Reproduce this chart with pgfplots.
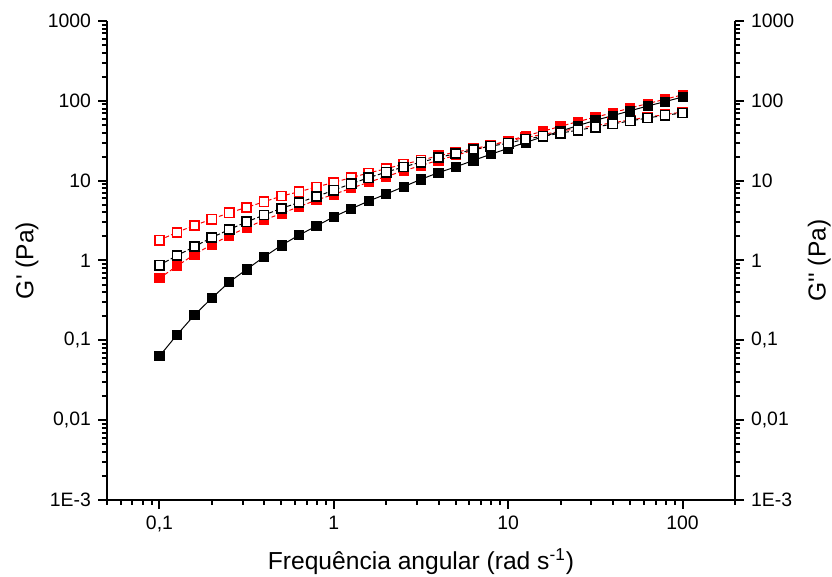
\documentclass[border=0pt]{standalone}
\usepackage{fontspec}
\setmainfont{Liberation Sans}[Ligatures=TeXOff]
\usepackage{pgfplots}
\usepackage{pgfplotstable}
\pgfplotsset{compat=1.18}
\newcommand\tl{\fontsize{9.7}{11}\selectfont}

\pgfplotstableread{
x y
0.1 0.0634
0.12589 0.117
0.15849 0.207
0.19953 0.338
0.25119 0.536
0.31623 0.774
0.39811 1.11
0.50119 1.55
0.63096 2.08
0.79433 2.70
1 3.53
1.2589 4.45
1.5849 5.55
1.9953 6.79
2.5119 8.39
3.1623 10.4
3.9811 12.6
5.0119 14.9
6.3096 17.9
7.9433 21.4
10 25.4
12.589 30.1
15.849 35.5
19.953 41.7
25.119 49.0
31.623 56.9
39.811 65.3
50.119 75.0
63.096 86.1
79.433 97.7
100 111.7
}\blackfilled

\pgfplotstableread{
x y
0.1 0.875
0.12589 1.15
0.15849 1.49
0.19953 1.94
0.25119 2.44
0.31623 3.05
0.39811 3.71
0.50119 4.50
0.63096 5.32
0.79433 6.32
1 7.6
1.2589 9.16
1.5849 10.89
1.9953 12.79
2.5119 14.86
3.1623 17.06
3.9811 19.41
5.0119 21.88
6.3096 24.43
7.9433 27.04
10 29.51
12.589 33.11
15.849 36.06
19.953 39.36
25.119 42.95
31.623 46.77
39.811 51.29
50.119 55.98
63.096 60.95
79.433 66.07
100 70.31
}\blackopen

\pgfplotstableread{
x y
0.1 0.60
0.12589 0.851
0.15849 1.19
0.19953 1.58
0.25119 2.05
0.31623 2.58
0.39811 3.21
0.50119 3.89
0.63096 4.71
0.79433 5.71
1 6.73
1.2589 8.04
1.5849 9.55
1.9953 11.27
2.5119 13.24
3.1623 15.49
3.9811 17.99
5.0119 20.80
6.3096 23.99
7.9433 27.54
10 31.62
12.589 36.31
15.849 41.69
19.953 47.86
25.119 54.95
31.623 62.37
39.811 70.79
50.119 81.28
63.096 92.26
79.433 104.7
100 118.9
}\redfilled

\pgfplotstableread{
x y
0.1 1.80
0.12589 2.25
0.15849 2.75
0.19953 3.30
0.25119 3.96
0.31623 4.63
0.39811 5.44
0.50119 6.41
0.63096 7.26
0.79433 8.32
1 9.52
1.2589 10.9
1.5849 12.5
1.9953 14.1
2.5119 16.1
3.1623 18.0
3.9811 20.5
5.0119 22.8
6.3096 25.1
7.9433 27.9
10 31.4
12.589 34.7
15.849 38.0
19.953 41.5
25.119 45.2
31.623 49.0
39.811 53.1
50.119 57.5
63.096 62.4
79.433 67.3
100 72.4
}\redopen

\begin{document}
\begin{tikzpicture}
\begin{axis}[name=ax,
    scale only axis, width=314pt, height=239.5pt,
    xmode=log, ymode=log,
    xmin=0.05, xmax=200, ymin=1e-3, ymax=1000,
  axis x line*=bottom, axis y line*=left,
    xtick={0.1,1,10,100}, xticklabels={{\tl 0,1},{\tl 1},{\tl 10},{\tl 100}},
    ytick={1e-3,0.01,0.1,1,10,100,1000},
    yticklabels={{\tl 1E-3},{\tl 0,01},{\tl 0,1},{\tl 1},{\tl 10},{\tl 100},{\tl 1000}},
    minor xtick={0.05,0.06,0.07,0.08,0.09,0.2,0.3,0.4,0.5,0.6,0.7,0.8,0.9,2,3,4,5,6,7,8,9,20,30,40,50,60,70,80,90,200},
    minor ytick={0.002,0.003,0.004,0.005,0.006,0.007,0.008,0.009,0.02,0.03,0.04,0.05,0.06,0.07,0.08,0.09,0.2,0.3,0.4,0.5,0.6,0.7,0.8,0.9,2,3,4,5,6,7,8,9,20,30,40,50,60,70,80,90,200,300,400,500,600,700,800,900},
    tick align=outside, xtick align=outside, ytick align=outside,
    major tick length=4.5pt, minor tick length=2.5pt,
    tick style={black, line width=1pt},
    axis line style={line width=1.35pt},
    label style={font=\fontsize{12.3}{14}\selectfont},
  xlabel={Frequência angular (rad s\textsuperscript{-1})},
  ylabel={G' (Pa)},
  xlabel style={at={(axis description cs:0.5,-0.129)}, anchor=center},
  ylabel style={at={(axis description cs:-0.1274,0.5)}, anchor=center},
]
\addplot[line width=0.5pt, mark=square*, mark size=2.3pt, red, dash pattern=on 2pt off 1.2pt, mark options={solid, draw=red, fill=white, line width=0.8pt}] table {\redopen};
\addplot[line width=0.5pt, mark=square*, mark size=2.3pt, red, dash pattern=on 2pt off 1.2pt, mark options={solid, draw=red, fill=red, line width=0.4pt}] table {\redfilled};
\addplot[line width=0.5pt, mark=square*, mark size=2.3pt, black, mark options={solid, draw=black, fill=black, line width=0.4pt}] table {\blackfilled};
\addplot[line width=0.5pt, mark=square*, mark size=2.3pt, black, dash pattern=on 2pt off 1.2pt, mark options={solid, draw=black, fill=white, line width=0.8pt}] table {\blackopen};
\end{axis}
\begin{axis}[
    scale only axis, width=314pt, height=239.5pt,
    xmode=log, ymode=log,
    xmin=0.05, xmax=200, ymin=1e-3, ymax=1000,
  axis x line=none, axis y line*=right,
    ytick={1e-3,0.01,0.1,1,10,100,1000},
    yticklabels={{\tl 1E-3},{\tl 0,01},{\tl 0,1},{\tl 1},{\tl 10},{\tl 100},{\tl 1000}},
    minor ytick={0.002,0.003,0.004,0.005,0.006,0.007,0.008,0.009,0.02,0.03,0.04,0.05,0.06,0.07,0.08,0.09,0.2,0.3,0.4,0.5,0.6,0.7,0.8,0.9,2,3,4,5,6,7,8,9,20,30,40,50,60,70,80,90,200,300,400,500,600,700,800,900},
    tick align=outside, ytick align=outside,
    major tick length=4.5pt, minor tick length=2.5pt,
    tick style={black, line width=1pt},
    axis line style={line width=1.35pt},
    label style={font=\fontsize{12.3}{14}\selectfont},
  ylabel={G'' (Pa)},
  ylabel style={at={(axis description cs:1.134,0.5)}, anchor=center},
]
\end{axis}
\pgfresetboundingbox
\path ([shift={(-53.5pt,-38.5pt)}]ax.south west) rectangle ([shift={(48.5pt,10.5pt)}]ax.north east);
\end{tikzpicture}
\end{document}
